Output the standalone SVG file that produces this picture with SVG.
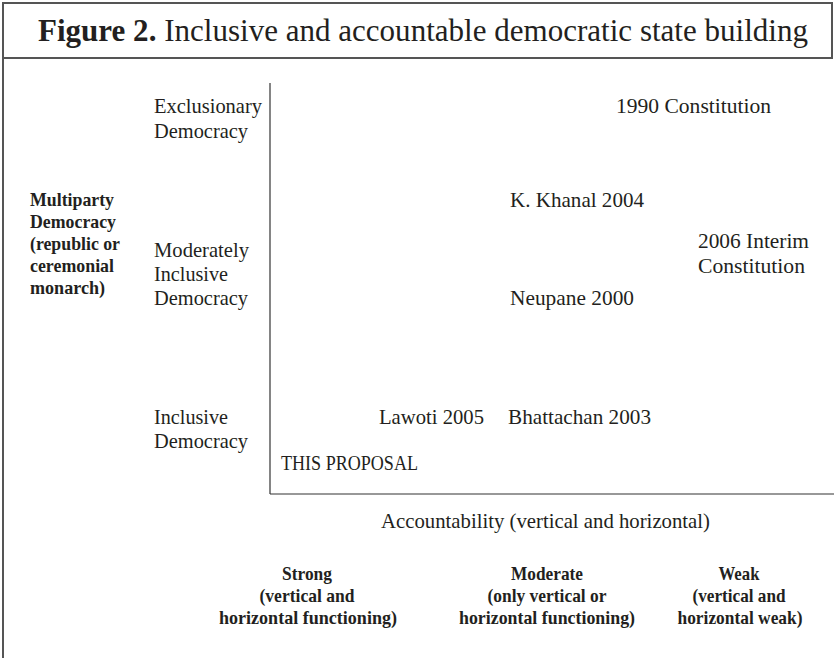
<svg xmlns="http://www.w3.org/2000/svg" width="834" height="658" viewBox="0 0 834 658">
  <style>
    text { font-family: "Liberation Serif", "Times New Roman", serif; fill: #231f20; }
    .t { font-size: 22px; }
    .b { font-size: 19.5px; font-weight: bold; }
    .frame { fill: none; stroke: #555; stroke-width: 2; }
    .axis { fill: none; stroke: #333; stroke-width: 1.2; }
  </style>
  <rect width="834" height="658" fill="#fff"/>

  <!-- frame and title band -->
  <g id="frame">
    <rect class="frame" x="3" y="3" width="829" height="55"/>
    <line class="frame" x1="3" y1="58" x2="3" y2="658"/>
    <text x="38" y="41" font-size="32" textLength="770" lengthAdjust="spacingAndGlyphs"><tspan font-weight="bold">Figure 2.</tspan> Inclusive and accountable democratic state building</text>
  </g>

  <!-- axes -->
  <g id="connectors">
    <line class="axis" x1="270" y1="83" x2="270" y2="494"/>
    <line class="axis" x1="270" y1="494" x2="834" y2="494"/>
  </g>

  <g id="row-labels">
    <text class="t" x="154" y="113" textLength="108" lengthAdjust="spacingAndGlyphs">Exclusionary</text>
    <text class="t" x="154" y="138" textLength="94" lengthAdjust="spacingAndGlyphs">Democracy</text>
    <text class="t" x="154" y="257" textLength="95" lengthAdjust="spacingAndGlyphs">Moderately</text>
    <text class="t" x="154" y="281" textLength="74" lengthAdjust="spacingAndGlyphs">Inclusive</text>
    <text class="t" x="154" y="305" textLength="94" lengthAdjust="spacingAndGlyphs">Democracy</text>
    <text class="t" x="154" y="424" textLength="74" lengthAdjust="spacingAndGlyphs">Inclusive</text>
    <text class="t" x="154" y="448" textLength="94" lengthAdjust="spacingAndGlyphs">Democracy</text>
  </g>

  <g id="regime-label">
    <text class="b" x="30" y="206" textLength="84" lengthAdjust="spacingAndGlyphs">Multiparty</text>
    <text class="b" x="30" y="228" textLength="86" lengthAdjust="spacingAndGlyphs">Democracy</text>
    <text class="b" x="30" y="250" textLength="90" lengthAdjust="spacingAndGlyphs">(republic or</text>
    <text class="b" x="30" y="272" textLength="84" lengthAdjust="spacingAndGlyphs">ceremonial</text>
    <text class="b" x="30" y="294" textLength="75" lengthAdjust="spacingAndGlyphs">monarch)</text>
  </g>

  <g id="constitution-1990"><text class="t" x="616" y="113" textLength="155" lengthAdjust="spacingAndGlyphs">1990 Constitution</text></g>
  <g id="khanal-2004"><text class="t" x="510" y="207" textLength="134" lengthAdjust="spacingAndGlyphs">K. Khanal 2004</text></g>
  <g id="interim-2006">
    <text class="t" x="698" y="248" textLength="111" lengthAdjust="spacingAndGlyphs">2006 Interim</text>
    <text class="t" x="698" y="273" textLength="107" lengthAdjust="spacingAndGlyphs">Constitution</text>
  </g>
  <g id="neupane-2000"><text class="t" x="510" y="305" textLength="124" lengthAdjust="spacingAndGlyphs">Neupane 2000</text></g>
  <g id="lawoti-2005"><text class="t" x="379" y="424" textLength="105" lengthAdjust="spacingAndGlyphs">Lawoti 2005</text></g>
  <g id="bhattachan-2003"><text class="t" x="508" y="424" textLength="143" lengthAdjust="spacingAndGlyphs">Bhattachan 2003</text></g>
  <g id="this-proposal"><text class="t" x="281" y="470" textLength="137" lengthAdjust="spacingAndGlyphs">THIS PROPOSAL</text></g>

  <g id="x-axis-label"><text class="t" x="381" y="528" textLength="329" lengthAdjust="spacingAndGlyphs">Accountability (vertical and horizontal)</text></g>

  <g id="strong" text-anchor="middle">
    <text class="b" x="307" y="580" textLength="50" lengthAdjust="spacingAndGlyphs">Strong</text>
    <text class="b" x="307" y="602" textLength="95" lengthAdjust="spacingAndGlyphs">(vertical and</text>
    <text class="b" x="308" y="624" textLength="178" lengthAdjust="spacingAndGlyphs">horizontal functioning)</text>
  </g>
  <g id="moderate" text-anchor="middle">
    <text class="b" x="547" y="580" textLength="72" lengthAdjust="spacingAndGlyphs">Moderate</text>
    <text class="b" x="547" y="602" textLength="119" lengthAdjust="spacingAndGlyphs">(only vertical or</text>
    <text class="b" x="547" y="624" textLength="176" lengthAdjust="spacingAndGlyphs">horizontal functioning)</text>
  </g>
  <g id="weak" text-anchor="middle">
    <text class="b" x="739" y="580" textLength="41" lengthAdjust="spacingAndGlyphs">Weak</text>
    <text class="b" x="739" y="602" textLength="93" lengthAdjust="spacingAndGlyphs">(vertical and</text>
    <text class="b" x="740" y="624" textLength="125" lengthAdjust="spacingAndGlyphs">horizontal weak)</text>
  </g>
</svg>
